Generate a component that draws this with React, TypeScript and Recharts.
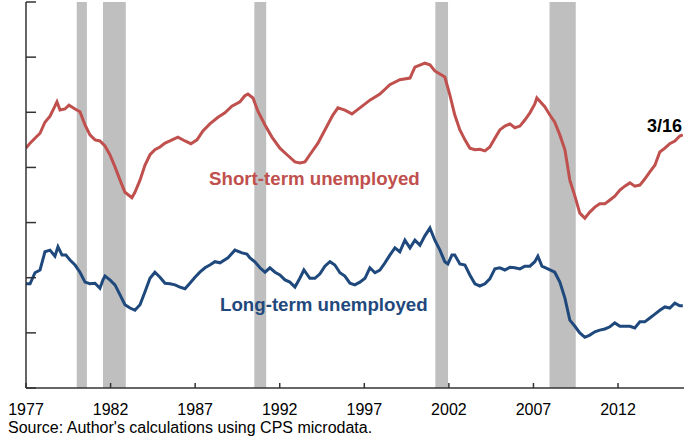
import React from "react";
import {
  LineChart,
  Line,
  XAxis,
  YAxis,
  ReferenceArea,
} from "recharts";

// short-term unemployed (red)
const shortYears = [
  1977.0, 1977.24, 1977.53, 1977.83, 1978.12, 1978.42, 1978.71, 1978.83, 1979.01, 1979.3,
  1979.54, 1979.9, 1980.19, 1980.49, 1980.78, 1981.08, 1981.37, 1981.67, 1981.96, 1982.26,
  1982.56, 1982.85, 1983.26, 1983.44, 1983.74, 1984.03, 1984.33, 1984.62, 1984.92, 1985.22,
  1985.51, 1985.98, 1986.4, 1986.75, 1987.11, 1987.46, 1987.87, 1988.35, 1988.76, 1989.17,
  1989.65, 1989.94, 1990.12, 1990.42, 1990.71, 1991.13, 1991.54, 1992.01, 1992.43, 1992.9,
  1993.19, 1993.49, 1993.78, 1994.26, 1994.67, 1995.14, 1995.44, 1995.85, 1996.27, 1996.74,
  1997.33, 1997.92, 1998.51, 1999.1, 1999.7, 1999.99, 2000.58, 2000.88, 2001.17, 2001.76,
  2002.06, 2002.35, 2002.65, 2002.95, 2003.24, 2003.54, 2003.83, 2004.13, 2004.42, 2004.72,
  2005.01, 2005.31, 2005.61, 2005.9, 2006.2, 2006.49, 2006.79, 2007.08, 2007.2, 2007.67,
  2007.97, 2008.26, 2008.56, 2008.86, 2009.15, 2009.45, 2009.74, 2010.04, 2010.33, 2010.63,
  2010.92, 2011.22, 2011.52, 2011.81, 2012.11, 2012.4, 2012.7, 2012.99, 2013.29, 2013.58,
  2013.88, 2014.18, 2014.47, 2014.77, 2015.06, 2015.36, 2015.65, 2015.83,
];
const shortValues = [
  43.5, 44.4, 45.3, 46.2, 48.2, 49.3, 51.1, 51.9, 50.4, 50.6,
  51.3, 50.6, 50.1, 47.7, 45.9, 45.0, 44.8, 43.9, 42.3, 40.1,
  37.7, 35.5, 34.5, 35.5, 37.7, 40.4, 42.3, 43.2, 43.7, 44.4,
  44.8, 45.5, 44.8, 44.3, 45.0, 46.6, 47.9, 49.1, 49.9, 51.1,
  51.9, 53.0, 53.3, 52.6, 50.2, 47.7, 45.5, 43.5, 42.3, 41.0,
  40.8, 41.0, 42.3, 44.4, 46.8, 49.5, 50.8, 50.4, 49.7, 50.8,
  52.2, 53.3, 55.0, 55.9, 56.2, 58.2, 58.9, 58.6, 57.5, 56.4,
  53.1, 49.5, 46.8, 45.0, 43.5, 43.2, 43.3, 43.0, 43.7, 45.3,
  46.8, 47.5, 47.9, 47.2, 47.5, 48.6, 49.9, 51.5, 52.6, 51.0,
  49.5, 48.2, 45.9, 43.2, 37.7, 34.8, 31.7, 30.8, 31.9, 32.8,
  33.4, 33.4, 34.1, 34.8, 35.9, 36.6, 37.2, 36.6, 36.8, 37.9,
  39.2, 40.4, 42.8, 43.5, 44.3, 44.8, 45.7, 45.9,
];

// long-term unemployed (blue)
const longYears = [
  1977.0, 1977.24, 1977.53, 1977.83, 1978.12, 1978.42, 1978.71, 1978.89, 1979.13, 1979.36,
  1979.6, 1979.9, 1980.19, 1980.49, 1980.78, 1981.08, 1981.37, 1981.55, 1981.67, 1981.96,
  1982.26, 1982.56, 1982.85, 1983.15, 1983.44, 1983.74, 1984.03, 1984.33, 1984.62, 1984.92,
  1985.22, 1985.51, 1985.81, 1986.1, 1986.4, 1986.69, 1986.99, 1987.28, 1987.58, 1987.87,
  1988.17, 1988.47, 1988.94, 1989.35, 1989.77, 1990.06, 1990.24, 1990.53, 1990.83, 1991.13,
  1991.42, 1991.72, 1992.01, 1992.31, 1992.6, 1992.9, 1993.19, 1993.43, 1993.78, 1994.08,
  1994.38, 1994.67, 1994.97, 1995.26, 1995.56, 1995.85, 1996.15, 1996.44, 1996.74, 1997.04,
  1997.33, 1997.63, 1997.92, 1998.22, 1998.51, 1998.81, 1999.1, 1999.4, 1999.7, 1999.99,
  2000.29, 2000.58, 2000.88, 2001.17, 2001.47, 2001.76, 2001.94, 2002.18, 2002.35, 2002.65,
  2002.95, 2003.24, 2003.54, 2003.83, 2004.13, 2004.42, 2004.72, 2005.01, 2005.31, 2005.61,
  2005.9, 2006.2, 2006.49, 2006.79, 2007.08, 2007.26, 2007.5, 2007.85, 2008.26, 2008.56,
  2008.86, 2009.15, 2009.45, 2009.74, 2010.04, 2010.33, 2010.63, 2010.92, 2011.22, 2011.52,
  2011.81, 2012.11, 2012.4, 2012.7, 2012.99, 2013.29, 2013.58, 2013.88, 2014.18, 2014.47,
  2014.77, 2015.06, 2015.36, 2015.65, 2015.83,
];
const longValues = [
  18.9, 18.9, 20.9, 21.4, 24.7, 25.0, 23.9, 25.6, 24.1, 24.1,
  23.2, 22.3, 21.0, 19.2, 18.9, 19.0, 18.1, 19.6, 20.3, 19.6,
  18.7, 16.9, 15.1, 14.5, 14.1, 15.1, 17.4, 19.9, 21.0, 20.1,
  19.0, 18.9, 18.7, 18.3, 18.0, 19.0, 20.1, 21.0, 21.8, 22.3,
  22.9, 22.7, 23.6, 25.0, 24.5, 24.3, 23.6, 22.9, 21.8, 21.0,
  21.8, 21.0, 20.5, 19.6, 19.2, 18.3, 19.9, 21.4, 19.9, 19.9,
  20.7, 22.1, 22.9, 22.3, 20.9, 20.3, 19.0, 18.7, 19.2, 19.9,
  21.8, 20.9, 21.4, 22.7, 24.1, 25.4, 24.7, 26.8, 25.4, 26.8,
  25.9, 27.6, 29.0, 26.8, 25.0, 22.9, 22.5, 24.1, 24.1, 22.5,
  22.3, 20.5, 18.9, 18.5, 18.9, 19.8, 21.6, 21.8, 21.4, 21.9,
  21.8, 21.6, 22.1, 22.1, 22.9, 23.9, 22.1, 21.6, 21.0, 19.2,
  16.3, 12.3, 11.2, 10.0, 9.2, 9.6, 10.2, 10.5, 10.7, 11.1,
  11.8, 11.2, 11.2, 11.2, 10.9, 12.0, 12.0, 12.7, 13.4, 14.1,
  14.7, 14.5, 15.4, 14.9, 14.9,
];

// recessions (shaded)
const recessionStarts = [1980.0, 1981.55, 1990.5, 2001.2, 2007.95];
const recessionEnds = [1980.6, 1982.9, 1991.2, 2001.95, 2009.5];

const yearTicks = [1977, 1982, 1987, 1992, 1997, 2002, 2007, 2012];
const valueTicks = [0, 10, 20, 30, 40, 50, 60, 70];

const shortData = shortYears.map((year, i) => ({ year, value: shortValues[i] }));
const longData = longYears.map((year, i) => ({ year, value: longValues[i] }));

const FONT = '"Liberation Sans", Arial, sans-serif';
const AXIS = { stroke: "#333", strokeWidth: 1.5 };

export default function App() {
  return (
    <div
      style={{
        position: "absolute",
        left: 0,
        top: 0,
        width: 684,
        height: 443,
        background: "#fff",
        fontFamily: FONT,
      }}
    >
      <LineChart
        width={684}
        height={443}
        margin={{ top: 2, right: 0, bottom: 0, left: 25 }}
      >
        {recessionStarts.map((start, i) => (
          <ReferenceArea
            key={start}
            x1={start}
            x2={recessionEnds[i]}
            y1={0}
            y2={70}
            fill="#bfbfbf"
            fillOpacity={1}
            stroke="none"
          />
        ))}
        <XAxis
          dataKey="year"
          type="number"
          domain={[1977, 2015.9]}
          allowDataOverflow
          ticks={yearTicks}
          height={55}
          tickSize={-5}
          tickMargin={21}
          axisLine={AXIS}
          tickLine={AXIS}
          tick={{ fill: "#000", fontSize: 16, fontFamily: FONT }}
        />
        <YAxis
          type="number"
          domain={[0, 70]}
          ticks={valueTicks}
          width={1}
          tickSize={-10}
          axisLine={AXIS}
          tickLine={AXIS}
          tick={() => <g />}
        />
        <Line
          data={shortData}
          dataKey="value"
          type="linear"
          stroke="#c0504d"
          strokeWidth={3}
          dot={false}
          isAnimationActive={false}
        />
        <Line
          data={longData}
          dataKey="value"
          type="linear"
          stroke="#1f497d"
          strokeWidth={3}
          dot={false}
          isAnimationActive={false}
        />
      </LineChart>
      <div
        style={{
          position: "absolute",
          left: 209,
          top: 170,
          fontSize: 18.7,
          lineHeight: "18.7px",
          fontWeight: "bold",
          color: "#c0504d",
          whiteSpace: "nowrap",
        }}
      >
        Short-term unemployed
      </div>
      <div
        style={{
          position: "absolute",
          left: 220,
          top: 296,
          fontSize: 18.7,
          lineHeight: "18.7px",
          fontWeight: "bold",
          color: "#1f497d",
          whiteSpace: "nowrap",
        }}
      >
        Long-term unemployed
      </div>
      <div
        style={{
          position: "absolute",
          left: 647,
          top: 117,
          fontSize: 18,
          lineHeight: "18px",
          fontWeight: "bold",
          color: "#000",
          whiteSpace: "nowrap",
        }}
      >
        3/16
      </div>
      <div
        style={{
          position: "absolute",
          left: 8,
          top: 420,
          fontSize: 16,
          lineHeight: "16px",
          color: "#000",
          whiteSpace: "nowrap",
        }}
      >
        Source: Author's calculations using CPS microdata.
      </div>
    </div>
  );
}
